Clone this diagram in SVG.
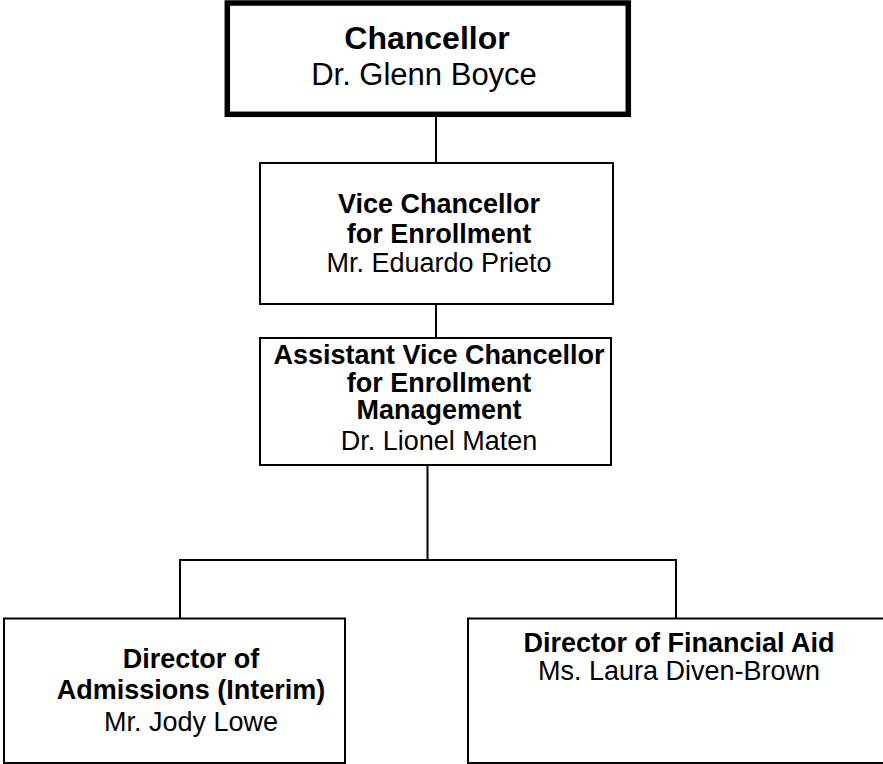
<svg xmlns="http://www.w3.org/2000/svg" width="883" height="764" viewBox="0 0 883 764">
<style>
.box{fill:#fff;stroke:#000;stroke-width:2}
.top{fill:#fff;stroke:#000;stroke-width:5.5}
.ln{fill:none;stroke:#000;stroke-width:2}
text{font-family:"Liberation Sans",Arial,sans-serif;fill:#000;text-anchor:middle}
.b{font-weight:bold;font-size:27px}
.r{font-size:27px}
</style>
<rect width="883" height="764" fill="#fff"/>
<g id="connectors">
<line class="ln" x1="436" y1="116" x2="436" y2="163"/>
<line class="ln" x1="436" y1="304" x2="436" y2="338"/>
<line class="ln" x1="427.5" y1="465" x2="427.5" y2="560"/>
<polyline class="ln" points="180,618.5 180,560 676,560 676,618.5"/>
</g>
<g id="chancellor">
<rect class="top" x="227.3" y="3" width="401" height="111.3"/>
<text x="427" y="49" font-weight="bold" font-size="32">Chancellor</text>
<text x="424" y="85" font-size="31">Dr. Glenn Boyce</text>
</g>
<g id="vc">
<rect class="box" x="260" y="163" width="353" height="141"/>
<text class="b" x="439" y="213">Vice Chancellor</text>
<text class="b" x="439" y="243">for Enrollment</text>
<text class="r" x="439" y="272">Mr. Eduardo Prieto</text>
</g>
<g id="avc">
<rect class="box" x="260" y="338" width="351" height="127"/>
<text class="b" x="439" y="364">Assistant Vice Chancellor</text>
<text class="b" x="439" y="392">for Enrollment</text>
<text class="b" x="439" y="419">Management</text>
<text class="r" x="439" y="450">Dr. Lionel Maten</text>
</g>
<g id="admissions">
<rect class="box" x="4" y="618.5" width="341" height="144.5"/>
<text class="b" x="191" y="668">Director of</text>
<text class="b" x="191" y="699">Admissions (Interim)</text>
<text class="r" x="191" y="731">Mr. Jody Lowe</text>
</g>
<g id="financial-aid">
<rect class="box" x="468" y="618.5" width="420" height="144.5"/>
<text class="b" x="679" y="652">Director of Financial Aid</text>
<text class="r" x="679" y="680">Ms. Laura Diven-Brown</text>
</g>
</svg>
